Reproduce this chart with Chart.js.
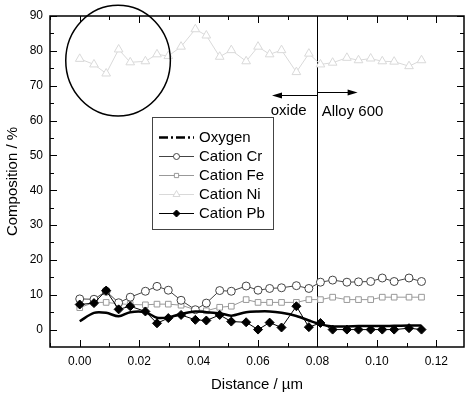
<!DOCTYPE html>
<html>
<head>
<meta charset="utf-8">
<script src="https://cdn.jsdelivr.net/npm/chart.js@4.4.0/dist/chart.umd.min.js"></script>
<style>
  html, body { margin: 0; padding: 0; background: #fff; overflow: hidden; }
  #wrap { width: 470px; height: 394px; }
  canvas { display: block; }
</style>
</head>
<body>
<div id="wrap"><canvas id="profile"></canvas></div>
<script>
// depth positions (µm) shared by all series
var distance = [0.0000, 0.0048, 0.0089, 0.0131, 0.0170, 0.0221, 0.0260, 0.0298, 0.0341, 0.0389,
                0.0426, 0.0471, 0.0510, 0.0560, 0.0600, 0.0639, 0.0679, 0.0729, 0.0771, 0.0810,
                0.0851, 0.0899, 0.0938, 0.0979, 0.1018, 0.1058, 0.1108, 0.1150];

var oxygen = [2.4, 4.8, 4.8, 3.8, 5.0, 5.0, 3.4, 3.5, 4.5, 5.2, 5.0, 4.7, 4.0, 5.0, 5.2,
              5.2, 4.8, 3.9, 2.6, 1.5, 0.9, 0.9, 1.0, 1.0, 1.0, 1.1, 1.2, 1.2];
var cationCr = [8.8, 8.7, 11.0, 7.7, 9.3, 11.0, 12.4, 11.3, 8.4, 5.7, 7.6, 11.2, 11.0, 12.5, 11.3,
                11.8, 12.0, 12.6, 11.8, 13.6, 14.2, 13.6, 13.7, 13.8, 14.8, 13.8, 14.8, 13.8];
var cationFe = [6.3, 7.8, 7.8, 7.4, 7.2, 7.1, 7.3, 7.3, 7.0, 5.7, 5.4, 6.4, 6.7, 8.6, 7.8,
                7.8, 7.8, 7.8, 8.6, 8.6, 9.3, 8.6, 8.6, 8.6, 9.3, 9.3, 9.3, 9.3];
var cationNi = [77.7, 76.1, 73.5, 80.4, 76.7, 77.0, 79.0, 78.5, 81.2, 86.2, 84.4, 78.3, 80.2, 77.0, 81.2,
                79.0, 80.2, 73.9, 79.2, 76.1, 76.6, 78.0, 77.3, 77.8, 77.0, 76.9, 75.6, 77.3];
var cationPb = [7.2, 7.6, 11.2, 5.8, 6.7, 5.2, 1.8, 3.3, 4.2, 2.8, 2.6, 4.2, 2.3, 2.1, 0.0,
                2.0, 0.6, 6.7, 0.7, 1.9, 0.0, 0.0, 0.0, 0.0, 0.0, 0.0, 0.4, 0.0];

var xTicks = [0.00, 0.02, 0.04, 0.06, 0.08, 0.10, 0.12];
var yTicks = [0, 10, 20, 30, 40, 50, 60, 70, 80, 90];

var FONT = "'Liberation Sans', Arial, sans-serif";

function pts(vals) {
  return vals.map(function (v, i) { return { x: distance[i], y: v }; });
}

var series = [
  { label: 'Oxygen', data: pts(oxygen), borderColor: '#000', borderWidth: 2.5, pointRadius: 0,
    tension: 0.3, order: 1, legendDash: [9, 3, 2, 3] },
  { label: 'Cation Cr', data: pts(cationCr), borderColor: '#444', borderWidth: 1, pointStyle: 'circle',
    pointRadius: 4, pointBackgroundColor: '#fff', pointBorderColor: '#444', pointBorderWidth: 1, order: 2 },
  { label: 'Cation Fe', data: pts(cationFe), borderColor: '#999', borderWidth: 1, pointStyle: 'rect',
    pointRadius: 4, pointBackgroundColor: '#fff', pointBorderColor: '#999', pointBorderWidth: 1, order: 3 },
  { label: 'Cation Ni', data: pts(cationNi), borderColor: '#d9d9d9', borderWidth: 1, pointStyle: 'triangle',
    pointRadius: 5, pointBackgroundColor: '#fff', pointBorderColor: '#d9d9d9', pointBorderWidth: 1, order: 4 },
  { label: 'Cation Pb', data: pts(cationPb), borderColor: '#000', borderWidth: 1, pointStyle: 'rectRot',
    pointRadius: 4.5, pointBackgroundColor: '#000', pointBorderColor: '#000', pointBorderWidth: 1, order: 0 }
];

// frame, inward ticks, annotations and the boxed legend
var decor = {
  id: 'decor',
  beforeDatasetsDraw: function (chart) {
    var c = chart.ctx, x = chart.scales.x, a = chart.chartArea;
    c.save();
    // interface line at 0.08 µm
    c.strokeStyle = '#000'; c.lineWidth = 1;
    var ix = Math.round(x.getPixelForValue(0.08)) + 0.5;
    c.beginPath(); c.moveTo(ix, a.top); c.lineTo(ix, a.bottom); c.stroke();
    c.restore();
  },
  afterDraw: function (chart) {
    var c = chart.ctx, x = chart.scales.x, y = chart.scales.y, a = chart.chartArea;
    c.save();
    c.strokeStyle = '#000';
    c.lineWidth = 1.5;
    c.strokeRect(a.left, a.top, a.right - a.left, a.bottom - a.top);

    c.lineWidth = 1;
    var i, px, py, len;
    for (i = -1; i <= 13; i++) {
      var v = i / 100;
      if (v < x.min || v > x.max) continue;
      len = (i % 2 === 0) ? 7 : 4;
      px = Math.round(x.getPixelForValue(v)) + 0.5;
      c.beginPath();
      c.moveTo(px, a.bottom); c.lineTo(px, a.bottom - len);
      c.moveTo(px, a.top); c.lineTo(px, a.top + len);
      c.stroke();
    }
    for (i = 0; i <= 90; i += 5) {
      len = (i % 10 === 0) ? 7 : 4;
      py = Math.round(y.getPixelForValue(i)) + 0.5;
      c.beginPath();
      c.moveTo(a.left, py); c.lineTo(a.left + len, py);
      c.moveTo(a.right, py); c.lineTo(a.right - len, py);
      c.stroke();
    }

    // circled region
    var cx = x.getPixelForValue(0.0129), cy = y.getPixelForValue(77.2);
    var rx = x.getPixelForValue(0.0129 + 0.0176) - cx;
    var ry = cy - y.getPixelForValue(77.2 + 15.9);
    c.lineWidth = 1.5;
    c.beginPath(); c.ellipse(cx, cy, rx, ry, 0, 0, Math.PI * 2); c.stroke();

    // arrows
    function arrow(x0, x1, yy) {
      var p0 = x.getPixelForValue(x0), p1 = x.getPixelForValue(x1), pyy = Math.round(y.getPixelForValue(yy)) + 0.5;
      var dir = p1 > p0 ? 1 : -1;
      c.lineWidth = 1.2;
      c.beginPath(); c.moveTo(p0, pyy); c.lineTo(p1 - dir * 6, pyy); c.stroke();
      c.fillStyle = '#000';
      c.beginPath(); c.moveTo(p1, pyy); c.lineTo(p1 - dir * 10, pyy - 3); c.lineTo(p1 - dir * 10, pyy + 3); c.closePath(); c.fill();
    }
    arrow(0.08, 0.0647, 67.4);
    arrow(0.08, 0.0935, 68.3);

    c.fillStyle = '#000';
    c.font = '15px ' + FONT;
    c.textBaseline = 'middle';
    c.textAlign = 'center';
    c.fillText('oxide', x.getPixelForValue(0.0703), y.getPixelForValue(62.8));
    c.textAlign = 'left';
    c.fillText('Alloy 600', x.getPixelForValue(0.0814), y.getPixelForValue(62.5));

    // legend box
    var bx = 152, by = 117, bw = 121, bh = 112;
    c.strokeStyle = '#444'; c.lineWidth = 1;
    c.fillStyle = '#fff';
    c.fillRect(bx, by, bw, bh);
    c.strokeRect(bx + 0.5, by + 0.5, bw, bh);
    chart.data.datasets.forEach(function (ds, k) {
      var ly = Math.round(by + 20 + k * 19) + 0.5;
      c.save();
      c.strokeStyle = ds.borderColor;
      c.lineWidth = ds.borderWidth;
      if (ds.legendDash) c.setLineDash(ds.legendDash);
      c.beginPath(); c.moveTo(159, ly); c.lineTo(194, ly); c.stroke();
      c.restore();
      if (ds.pointRadius > 0) {
        c.save();
        c.strokeStyle = ds.pointBorderColor;
        c.fillStyle = ds.pointBackgroundColor;
        c.lineWidth = 1;
        Chart.helpers.drawPoint(c, { pointStyle: ds.pointStyle, radius: ds.pointRadius - 1, borderWidth: 1, rotation: 0 }, 176.5, ly);
        c.restore();
      }
      c.fillStyle = '#000';
      c.font = '15px ' + FONT;
      c.textAlign = 'left';
      c.textBaseline = 'middle';
      c.fillText(ds.label, 199, ly);
    });
    c.restore();
  }
};

new Chart(document.getElementById('profile'), {
  type: 'line',
  data: { datasets: series },
  options: {
    responsive: true,
    maintainAspectRatio: false,
    animation: false,
    events: [],
    layout: { padding: { top: 16, right: 0, left: 0, bottom: 0 } },
    plugins: { legend: { display: false }, tooltip: { enabled: false } },
    scales: {
      x: {
        type: 'linear', min: -0.01, max: 0.1293,
        grid: { display: false, drawTicks: false },
        border: { display: false },
        afterFit: function (s) { s.height = 47; },
        afterBuildTicks: function (s) { s.ticks = xTicks.map(function (v) { return { value: v }; }); },
        ticks: { color: '#000', padding: 7, font: { family: FONT, size: 12 },
                 callback: function (v) { return v.toFixed(2); } },
        title: { display: true, text: 'Distance / \u00b5m', color: '#000', padding: { top: 0, bottom: 0 },
                 font: { family: FONT, size: 15 } }
      },
      y: {
        type: 'linear', min: -5, max: 90,
        grid: { display: false, drawTicks: false },
        border: { display: false },
        afterFit: function (s) { s.width = 50; },
        afterBuildTicks: function (s) { s.ticks = yTicks.map(function (v) { return { value: v }; }); },
        ticks: { color: '#000', padding: 7, font: { family: FONT, size: 12 } },
        title: { display: true, text: 'Composition / %', color: '#000', padding: { top: 4, bottom: 0 },
                 font: { family: FONT, size: 15 } }
      }
    }
  },
  plugins: [decor]
});
</script>
</body>
</html>
